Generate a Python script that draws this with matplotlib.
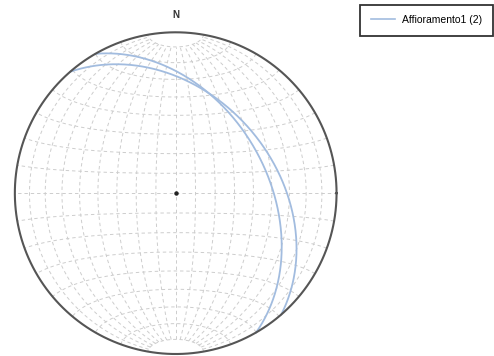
import numpy as np
import matplotlib
matplotlib.use("Agg")
import matplotlib.pyplot as plt
from matplotlib.lines import Line2D

# ---- data ----
series_label = "Affioramento1 (2)"
dip_directions = [60, 49]   # degrees
dips = [43, 39]             # degrees
grid_step = 10

def project(e, n, d):
    """Lower hemisphere equal-area (Schmidt) projection, unit radius."""
    r = np.sqrt(np.clip(1 - d, 0, None))
    h = np.hypot(e, n)
    h = np.where(h == 0, 1, h)
    return r * e / h, r * n / h

fig = plt.figure(figsize=(4.94, 3.56), dpi=100)
ax = fig.add_axes([14.7 / 494, 1 - 354 / 356, 322 / 494, 321.7 / 356])
ax.set_xlim(-1, 1)
ax.set_ylim(-1, 1)
ax.set_aspect("equal")
ax.axis("off")

gkw = dict(color="#cdcdcd", lw=0.7, ls=(0, (3.5, 3)), zorder=1)
# meridians
phi = np.radians(np.linspace(-80, 80, 200))
for lam_deg in range(grid_step, 180, grid_step):
    lam = np.radians(lam_deg)
    e = np.cos(phi) * np.cos(lam)
    n = np.sin(phi)
    d = np.cos(phi) * np.sin(lam)
    x, y = project(e, n, d)
    ax.plot(x, y, **gkw)
# parallels
lam = np.radians(np.linspace(0, 180, 300))
for phi_deg in range(-80, 81, grid_step):
    p = np.radians(phi_deg)
    e = np.cos(p) * np.cos(lam)
    n = np.full_like(lam, np.sin(p))
    d = np.cos(p) * np.sin(lam)
    x, y = project(e, n, d)
    ax.plot(x, y, **gkw)

# primitive
t = np.linspace(0, 2 * np.pi, 400)
ax.plot(np.cos(t), np.sin(t), color="#555555", lw=1.5, zorder=4, clip_on=False)

# great circles
gc_color = "#a2bcdf"
for dd, dp in zip(dip_directions, dips):
    trend = np.radians(np.linspace(dd - 90, dd + 90, 400))
    plunge = np.arctan(np.tan(np.radians(dp)) * np.cos(trend - np.radians(dd)))
    e = np.cos(plunge) * np.sin(trend)
    n = np.cos(plunge) * np.cos(trend)
    d = np.sin(plunge)
    x, y = project(e, n, d)
    ax.plot(x, y, color=gc_color, lw=1.3, zorder=3, clip_on=False)

# centre mark
ax.plot([0], [0], marker="o", ms=2.2, color="#222222", zorder=5)

fig.text(175.5 / 494, 1 - 15 / 356, "N", ha="center", va="center",
         fontsize=7, fontweight="bold", color="#333333",
         family="Liberation Sans")

handle = Line2D([], [], color=gc_color, lw=1.2)
leg = fig.legend([handle], [series_label], loc="upper right",
                 bbox_to_anchor=(492.7 / 494, 1 - 4.7 / 356),
                 borderaxespad=0, fancybox=False, edgecolor="#333333",
                 prop=dict(family="Liberation Sans", size=7.5),
                 handlelength=2.3, handletextpad=0.7, borderpad=1.0,
                 framealpha=1)
leg.get_frame().set_linewidth(1.3)

fig.savefig("out.png", dpi=100)
